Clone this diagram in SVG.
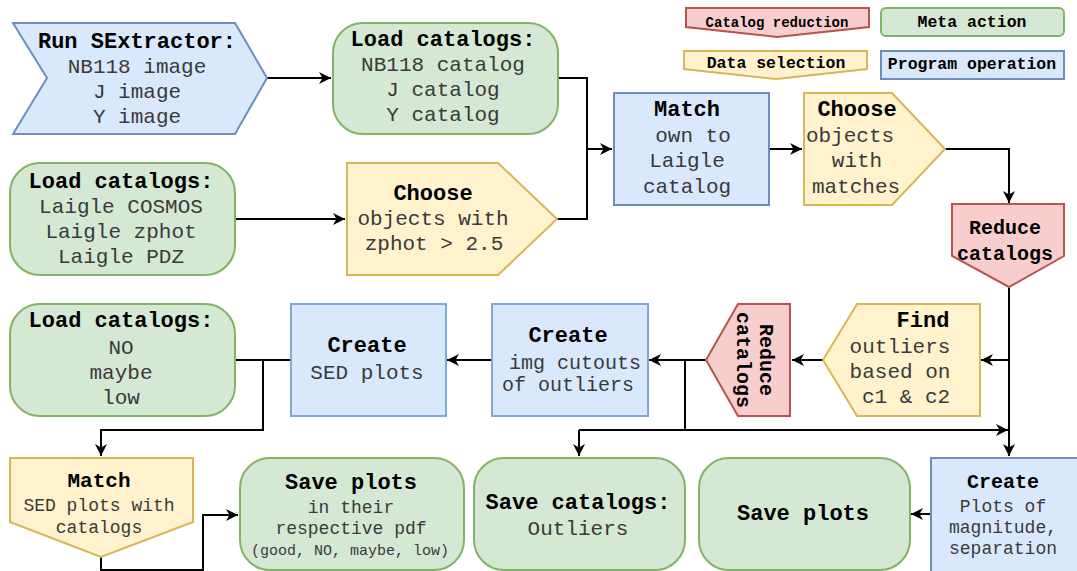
<svg xmlns="http://www.w3.org/2000/svg" width="1077" height="571" viewBox="0 0 1077 571">
  <defs>
    <marker id="arrow" markerUnits="userSpaceOnUse" markerWidth="14" markerHeight="12" refX="12" refY="6" orient="auto">
      <path d="M0,0 L12,6 L0,12 L3.5,6 Z" fill="#000"/>
    </marker>
    <style>
      .blue { fill: #dae8fc; stroke: #6c8ebf; stroke-width: 2; }
      .blue2 { fill: #dae8fc; stroke: #7ea6e0; stroke-width: 2; }
      .green { fill: #d5e8d4; stroke: #82b366; stroke-width: 2; }
      .yellow { fill: #fff2cc; stroke: #d6b656; stroke-width: 2; }
      .red { fill: #f8cecc; stroke: #b85450; stroke-width: 2; }
      text { font-family: "Liberation Mono", "Courier New", monospace; text-anchor: middle; }
      .b { font-weight: bold; fill: #000; font-size: 22px; }
      .t { fill: #3a3a3a; font-size: 21px; }
      .s { fill: #3a3a3a; font-size: 18px; }
      .xs { fill: #3a3a3a; font-size: 15px; }
      .lg { font-weight: bold; fill: #000; font-size: 16.5px; }
      .conn path { fill: none; stroke: #000; stroke-width: 2; }
    </style>
  </defs>
  <rect width="1077" height="571" fill="#fff"/>

  <!-- connectors -->
  <g class="conn">
    <path d="M267,78 H331" marker-end="url(#arrow)"/>
    <path d="M235,219 H345" marker-end="url(#arrow)"/>
    <path d="M558,78 H587 V219 H557"/>
    <path d="M587,149 H612" marker-end="url(#arrow)"/>
    <path d="M769,149 H802" marker-end="url(#arrow)"/>
    <path d="M945,149 H1009 V203" marker-end="url(#arrow)"/>
    <path d="M1009,287 V456" marker-end="url(#arrow)"/>
    <path d="M1009,360 H981" marker-end="url(#arrow)"/>
    <path d="M823,360 H792" marker-end="url(#arrow)"/>
    <path d="M706,360 H649" marker-end="url(#arrow)"/>
    <path d="M685,360 V430"/>
    <path d="M579,430 H1008" marker-end="url(#arrow)"/>
    <path d="M579,430 V456" marker-end="url(#arrow)"/>
    <path d="M492,360 H447" marker-end="url(#arrow)"/>
    <path d="M291,360 H235"/>
    <path d="M263,360 V430 H101 V456" marker-end="url(#arrow)"/>
    <path d="M101,557 V570 H203 V515 H238" marker-end="url(#arrow)"/>
    <path d="M931,514 H911" marker-end="url(#arrow)"/>
  </g>

  <!-- legend -->
  <g id="legend-catalog-reduction">
    <polygon class="red" points="686,8 869,8 869,27 777,37 686,27"/>
    <text class="lg" x="777" y="27" style="font-size:14px">Catalog reduction</text>
  </g>
  <g id="legend-data-selection">
    <polygon class="yellow" points="684,51 867,51 867,69 776,79 684,69"/>
    <text class="lg" x="776" y="68">Data selection</text>
  </g>
  <g id="legend-meta-action">
    <rect class="green" x="881" y="8" width="183" height="28" rx="5"/>
    <text class="lg" x="972" y="27">Meta action</text>
  </g>
  <g id="legend-program-operation">
    <rect class="blue" x="881" y="51" width="183" height="28"/>
    <text class="lg" x="972" y="69">Program operation</text>
  </g>

  <!-- row 1 -->
  <g id="run-sextractor">
    <polygon class="blue" points="13,23 235,23 267,78 235,134 13,134 47,78"/>
    <text class="b" x="137" y="48">Run SExtractor:</text>
    <text class="t" x="137" y="73">NB118 image</text>
    <text class="t" x="137" y="98">J image</text>
    <text class="t" x="137" y="123">Y image</text>
  </g>
  <g id="load-own-catalogs">
    <rect class="green" x="333" y="23" width="225" height="111" rx="30"/>
    <text class="b" x="443" y="46">Load catalogs:</text>
    <text class="t" x="443" y="71">NB118 catalog</text>
    <text class="t" x="443" y="96">J catalog</text>
    <text class="t" x="443" y="121">Y catalog</text>
  </g>
  <g id="match-laigle">
    <rect class="blue" x="614" y="93" width="155" height="112"/>
    <text class="b" x="687" y="116">Match</text>
    <text class="t" x="693" y="142">own to</text>
    <text class="t" x="687" y="167">Laigle</text>
    <text class="t" x="687" y="193">catalog</text>
  </g>
  <g id="choose-matches">
    <polygon class="yellow" points="804,93 892,93 945,149 892,205 804,205"/>
    <text class="b" x="857" y="116">Choose</text>
    <text class="t" x="850" y="142">objects</text>
    <text class="t" x="857" y="167">with</text>
    <text class="t" x="856" y="193">matches</text>
  </g>
  <g id="reduce-catalogs-1">
    <polygon class="red" points="952,204 1064,204 1064,256 1009,287 952,256"/>
    <text class="b" x="1005" y="234" style="font-size:20px">Reduce</text>
    <text class="b" x="1005" y="260" style="font-size:20px">catalogs</text>
  </g>

  <!-- row 2 -->
  <g id="load-laigle-catalogs">
    <rect class="green" x="10" y="163" width="225" height="112" rx="30"/>
    <text class="b" x="121" y="188">Load catalogs:</text>
    <text class="t" x="121" y="213">Laigle COSMOS</text>
    <text class="t" x="121" y="238">Laigle zphot</text>
    <text class="t" x="121" y="263">Laigle PDZ</text>
  </g>
  <g id="choose-zphot">
    <polygon class="yellow" points="347,163 498,163 557,219 498,275 347,275"/>
    <text class="b" x="433" y="200">Choose</text>
    <text class="t" x="433" y="225">objects with</text>
    <text class="t" x="434" y="250">zphot &gt; 2.5</text>
  </g>

  <!-- row 3 -->
  <g id="load-class-catalogs">
    <rect class="green" x="10" y="304" width="225" height="112" rx="30"/>
    <text class="b" x="121" y="327">Load catalogs:</text>
    <text class="t" x="121" y="354">NO</text>
    <text class="t" x="121" y="379">maybe</text>
    <text class="t" x="121" y="404">low</text>
  </g>
  <g id="create-sed-plots">
    <rect class="blue2" x="291" y="304" width="155" height="112"/>
    <text class="b" x="367" y="352">Create</text>
    <text class="t" x="367" y="379">SED plots</text>
  </g>
  <g id="create-cutouts">
    <rect class="blue2" x="492" y="304" width="156" height="112"/>
    <text class="b" x="568" y="342">Create</text>
    <text class="t" x="575" y="369" style="font-size:20px">img cutouts</text>
    <text class="t" x="568" y="391" style="font-size:20px">of outliers</text>
  </g>
  <g id="reduce-catalogs-2">
    <polygon class="red" points="706,360 738,304 790,304 790,416 738,416"/>
    <g transform="translate(756,360) rotate(90)">
      <text class="b" x="0" y="-4" style="font-size:20px">Reduce</text>
      <text class="b" x="0" y="19" style="font-size:20px">catalogs</text>
    </g>
  </g>
  <g id="find-outliers">
    <polygon class="yellow" points="823,360 857,304 980,304 980,416 857,416"/>
    <text class="b" x="923" y="327">Find</text>
    <text class="t" x="900" y="353">outliers</text>
    <text class="t" x="900" y="378">based on</text>
    <text class="t" x="906" y="403">c1 &amp; c2</text>
  </g>

  <!-- row 4 -->
  <g id="match-sed-plots">
    <polygon class="yellow" points="10,458 193,458 193,522 101,557 10,522"/>
    <text class="b" x="99" y="487" style="font-size:21px">Match</text>
    <text class="s" x="99" y="511">SED plots with</text>
    <text class="s" x="99" y="533">catalogs</text>
  </g>
  <g id="save-plots-pdf">
    <rect class="green" x="240" y="458" width="224" height="112" rx="30"/>
    <text class="b" x="351" y="489">Save plots</text>
    <text class="s" x="351" y="513">in their</text>
    <text class="s" x="351" y="534">respective pdf</text>
    <text class="xs" x="350" y="555">(good, NO, maybe, low)</text>
  </g>
  <g id="save-catalogs">
    <rect class="green" x="474" y="458" width="211" height="112" rx="30"/>
    <text class="b" x="578" y="509">Save catalogs:</text>
    <text class="t" x="578" y="535">Outliers</text>
  </g>
  <g id="save-plots">
    <rect class="green" x="699" y="458" width="211" height="112" rx="30"/>
    <text class="b" x="803" y="520">Save plots</text>
  </g>
  <g id="create-plots">
    <rect class="blue" x="931" y="458" width="150" height="116"/>
    <text class="b" x="1003" y="488" style="font-size:20px">Create</text>
    <text class="s" x="1003" y="512">Plots of</text>
    <text class="s" x="1003" y="533">magnitude,</text>
    <text class="s" x="1003" y="554">separation</text>
  </g>
</svg>
